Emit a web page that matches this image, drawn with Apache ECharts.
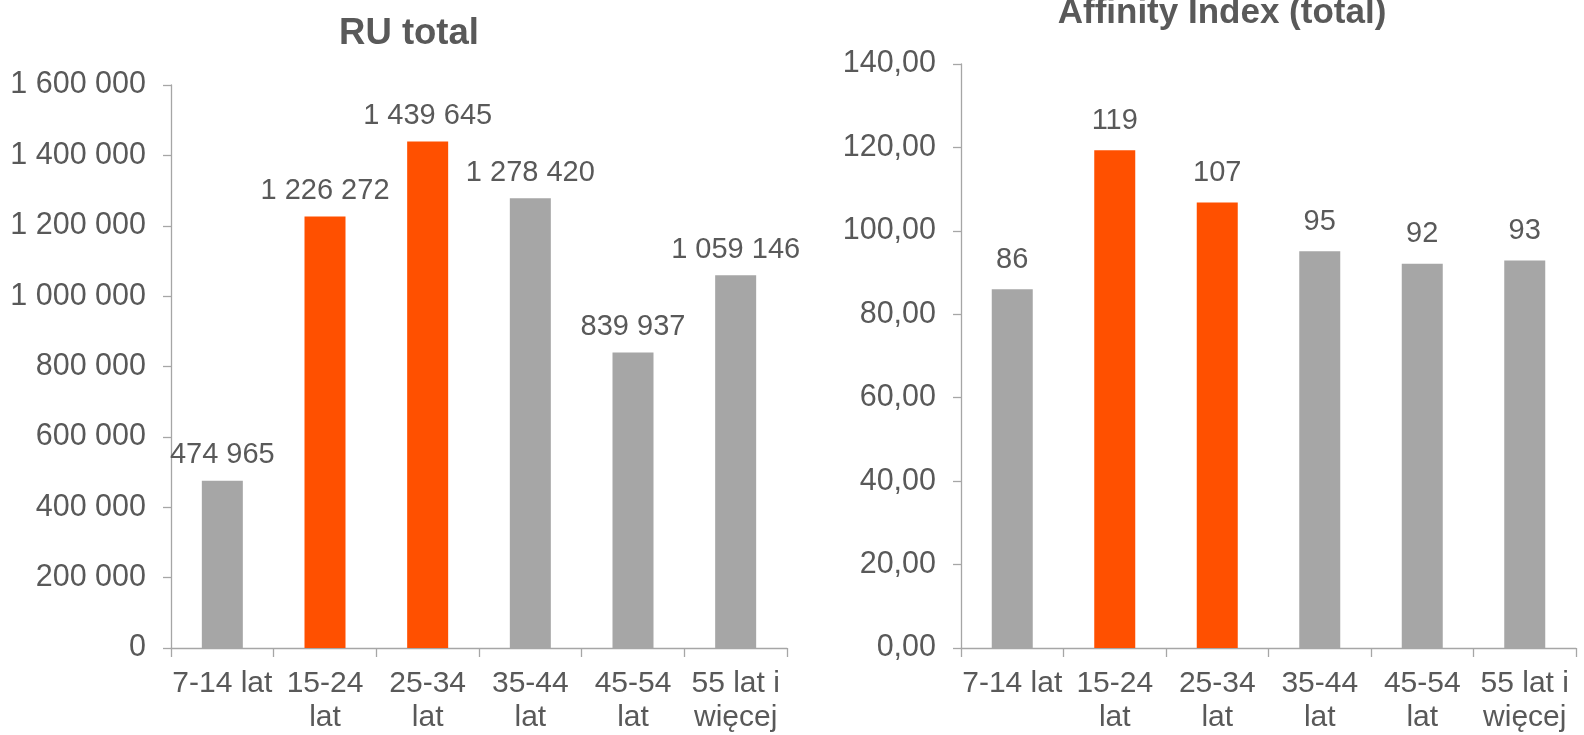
<!DOCTYPE html>
<html>
<head>
<meta charset="utf-8">
<script src="https://cdn.jsdelivr.net/npm/echarts@6/dist/echarts.min.js"></script>
<style>
html,body{margin:0;padding:0;background:#fff;}
#c{width:1584px;height:735px;}
</style>
</head>
<body>
<div id="c"></div>
<script>
// ---- data ----
const categories = ['7-14 lat', '15-24\nlat', '25-34\nlat', '35-44\nlat', '45-54\nlat', '55 lat i\nwięcej'];
const ruTotal = [474965, 1226272, 1439645, 1278420, 839937, 1059146];
const affinityIndex = [86.0, 119.3, 106.8, 95.1, 92.1, 92.9];
const highlighted = [false, true, true, false, false, false];
const titleLeft = 'RU total';
const titleRight = 'Affinity Index (total)';

// ---- style ----
const ORANGE = '#FF5000';
const GRAY = '#A6A6A6';
const TEXT = '#595959';
const FONT = '"Liberation Sans", Arial, sans-serif';

function spaced(v) {
  return String(Math.round(v)).replace(/\B(?=(\d{3})+(?!\d))/g, ' ');
}
function comma2(v) {
  return Number(v).toFixed(2).replace('.', ',');
}
function barColor(p) { return highlighted[p.dataIndex] ? ORANGE : GRAY; }

const axisLine = { show: true, lineStyle: { color: GRAY, width: 1.3 } };

function xAxis(gi) {
  return {
    type: 'category', gridIndex: gi, data: categories,
    axisLine: axisLine,
    axisTick: { show: true, length: 9, alignWithLabel: false, lineStyle: { color: GRAY, width: 1.3 } },
    axisLabel: { color: TEXT, fontFamily: FONT, fontSize: 30, lineHeight: 34, margin: 19, interval: 0 }
  };
}

const chart = echarts.init(document.getElementById('c'), null, { renderer: 'canvas' });
chart.setOption({
  animation: false,
  backgroundColor: '#ffffff',
  title: [
    { text: titleLeft, left: 404, top: 10, textAlign: 'center',
      textStyle: { color: TEXT, fontFamily: FONT, fontSize: 36.5, fontWeight: 'bold' } },
    { text: titleRight, left: 1217, top: -9, textAlign: 'center',
      textStyle: { color: TEXT, fontFamily: FONT, fontSize: 35, fontWeight: 'bold' } }
  ],
  grid: [
    { left: 171, right: 797, top: 85, bottom: 85, containLabel: false },
    { left: 961, right: 8, top: 64, bottom: 82, containLabel: false }
  ],
  xAxis: [xAxis(0), xAxis(1)],
  yAxis: [
    { type: 'value', gridIndex: 0, min: 0, max: 1600000, interval: 200000,
      axisLine: axisLine,
      axisTick: { show: true, length: 8, lineStyle: { color: GRAY, width: 1.3 } },
      splitLine: { show: false },
      axisLabel: { color: TEXT, fontFamily: FONT, fontSize: 30.5, margin: 25, formatter: spaced } },
    { type: 'value', gridIndex: 1, min: 0, max: 140, interval: 20,
      axisLine: axisLine,
      axisTick: { show: true, length: 8, lineStyle: { color: GRAY, width: 1.3 } },
      splitLine: { show: false },
      axisLabel: { color: TEXT, fontFamily: FONT, fontSize: 30.5, margin: 25, formatter: comma2 } }
  ],
  series: [
    { type: 'bar', xAxisIndex: 0, yAxisIndex: 0, data: ruTotal, barWidth: 41,
      itemStyle: { color: barColor },
      label: { show: true, position: 'top', distance: 11, color: TEXT, fontFamily: FONT, fontSize: 29,
        formatter: p => spaced(p.value) } },
    { type: 'bar', xAxisIndex: 1, yAxisIndex: 1, data: affinityIndex, barWidth: 41,
      itemStyle: { color: barColor },
      label: { show: true, position: 'top', distance: 15, color: TEXT, fontFamily: FONT, fontSize: 29,
        formatter: p => String(Math.round(p.value)) } }
  ]
});
</script>
</body>
</html>
